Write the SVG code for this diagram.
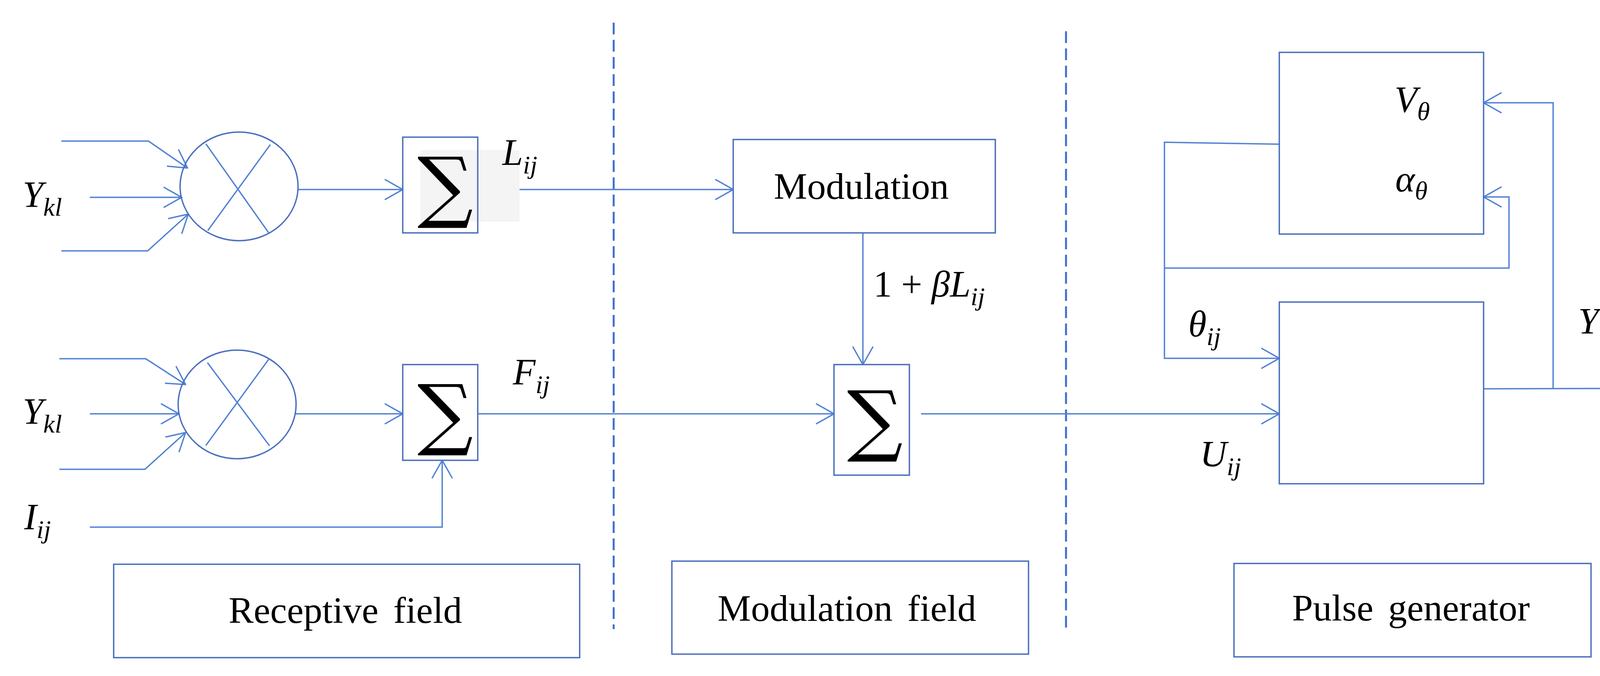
<svg xmlns="http://www.w3.org/2000/svg" width="4227" height="1730" viewBox="0 0 4227 1730">
<style>
.c{fill:none;stroke:#5282d4;stroke-width:3.5}
.b{fill:none;stroke:#4a6fbd;stroke-width:3.5}
.d{fill:none;stroke:#3f6fcc;stroke-width:5;stroke-dasharray:30 14}
.m{font-family:"Liberation Serif",serif;font-style:italic;font-size:95px;fill:#000}
.s{font-size:66px}
.t{font-family:"Liberation Serif",serif;font-size:96px;fill:#000;text-anchor:middle;word-spacing:14px}
.sig{font-family:"DejaVu Serif",serif;font-size:200px;fill:#000;text-anchor:middle}
</style>
<defs>
<marker id="a" markerUnits="userSpaceOnUse" viewBox="0 0 50 56" refX="48" refY="28" markerWidth="50" markerHeight="56" orient="auto">
<path d="M2,2 L48,28 L2,54" fill="none" stroke="#5282d4" stroke-width="3.5"/>
</marker>
</defs>
<g id="dividers">
<line class="d" x1="1571" y1="58" x2="1571" y2="1610"/>
<line class="d" x1="2729" y1="80" x2="2729" y2="1612"/>
</g>
<g id="connectors">
<polyline class="c" points="157,361 380,361 480,430" marker-end="url(#a)"/>
<line class="c" x1="230" y1="505" x2="465" y2="505" marker-end="url(#a)"/>
<polyline class="c" points="157,642 378,642 482,548" marker-end="url(#a)"/>
<line class="c" x1="763" y1="485" x2="1031" y2="485" marker-end="url(#a)"/>
<line class="c" x1="1223" y1="485" x2="1877" y2="485" marker-end="url(#a)"/>
<polyline class="c" points="152,918 373,918 475,984" marker-end="url(#a)"/>
<line class="c" x1="230" y1="1059" x2="458" y2="1059" marker-end="url(#a)"/>
<polyline class="c" points="152,1201 371,1201 475,1107" marker-end="url(#a)"/>
<line class="c" x1="756" y1="1059" x2="1031" y2="1059" marker-end="url(#a)"/>
<polyline class="c" points="230,1349 1132,1349 1132,1178" marker-end="url(#a)"/>
<line class="c" x1="1223" y1="1059" x2="2135" y2="1059" marker-end="url(#a)"/>
<line class="c" x1="2209" y1="596" x2="2209" y2="933" marker-end="url(#a)"/>
<line class="c" x1="2358" y1="1059" x2="3275" y2="1059" marker-end="url(#a)"/>
<polyline class="c" points="3275,369 2981,364 2981,917 3275,917" marker-end="url(#a)"/>
<polyline class="c" points="2981,686 3863,686 3863,504 3798,504" marker-end="url(#a)"/>
<line class="c" x1="3798" y1="995" x2="4180" y2="994"/>
<polyline class="c" points="3976,995 3976,263 3798,263" marker-end="url(#a)"/>
</g>
<g id="mult1">
<ellipse class="b" cx="612" cy="477" rx="151" ry="139"/>
<line class="c" x1="527" y1="368" x2="688" y2="596"/>
<line class="c" x1="692" y1="370" x2="532" y2="590"/>
</g>
<g id="mult2">
<ellipse class="b" cx="607" cy="1035" rx="151" ry="139"/>
<line class="c" x1="531" y1="928" x2="690" y2="1141"/>
<line class="c" x1="689" y1="918" x2="527" y2="1140"/>
</g>
<g id="sum1">
<rect x="1076" y="384" width="254" height="183" fill="#f4f4f4"/>
<rect class="b" x="1031" y="351" width="192" height="245" fill="none"/>
<text class="sig" x="1140" y="545">∑</text>
</g>
<g id="sum2">
<rect class="b" x="1031" y="933" width="192" height="245"/>
<text class="sig" x="1140" y="1127">∑</text>
</g>
<g id="modulation">
<rect class="b" x="1877" y="357" width="671" height="239"/>
<text class="t" x="2205" y="509">Modulation</text>
</g>
<g id="sum3">
<rect class="b" x="2135" y="933" width="193" height="283"/>
<text class="sig" x="2240" y="1143">∑</text>
</g>
<g id="threshold">
<rect class="b" x="3275" y="134" width="523" height="465"/>
<text class="m" x="3570" y="287">V<tspan class="s" dy="20">θ</tspan></text>
<text class="m" x="3572" y="490">α<tspan class="s" dy="20">θ</tspan></text>
</g>
<g id="pulse">
<rect class="b" x="3275" y="773" width="523" height="465"/>
</g>
<g id="labels">
<text class="m" x="58" y="530">Y<tspan class="s" dy="22">kl</tspan></text>
<text class="m" x="58" y="1085">Y<tspan class="s" dy="22">kl</tspan></text>
<text class="m" x="62" y="1355">I<tspan class="s" dy="22">ij</tspan></text>
<text class="m" x="1286" y="422">L<tspan class="s" dy="22">ij</tspan></text>
<text class="m" x="1313" y="984">F<tspan class="s" dy="22">ij</tspan></text>
<text class="m" x="2236" y="759"><tspan font-style="normal">1 + </tspan>βL<tspan class="s" dy="22">ij</tspan></text>
<text class="m" x="3042" y="861">θ<tspan class="s" dy="22">ij</tspan></text>
<text class="m" x="4040" y="854">Y<tspan class="s" dy="22">ij</tspan></text>
<text class="m" x="3072" y="1194">U<tspan class="s" dy="22">ij</tspan></text>
</g>
<g id="receptive">
<rect class="b" x="291" y="1444" width="1193" height="239"/>
<text class="t" x="884" y="1594">Receptive field</text>
</g>
<g id="modfield">
<rect class="b" x="1720" y="1436" width="913" height="238"/>
<text class="t" x="2168" y="1589">Modulation field</text>
</g>
<g id="pulsegen">
<rect class="b" x="3159" y="1442" width="914" height="239"/>
<text class="t" x="3612" y="1588">Pulse generator</text>
</g>
</svg>
